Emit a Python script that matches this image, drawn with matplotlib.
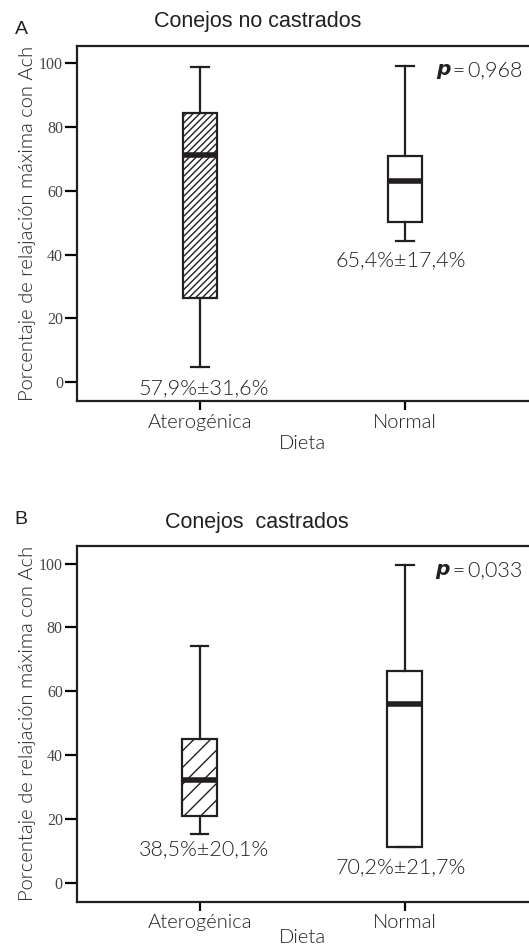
import matplotlib
matplotlib.use("Agg")
import matplotlib.pyplot as plt

# ---- data ----
categories = ["Aterogénica", "Normal"]
titles = ["Conejos no castrados", "Conejos  castrados"]
panel_letters = ["A", "B"]
p_values = ["\u2009=\u20090,968", "\u2009=\u20090,033"]

# panel A (no castrados)
a_whislo = [4.8, 44.1]
a_q1 = [26.3, 50.1]
a_med = [71.4, 63.1]
a_q3 = [84.6, 71.1]
a_whishi = [98.9, 99.2]
a_labels = ["57,9%±31,6%", "65,4%±17,4%"]
a_label_y = [-2.0, 38.2]

# panel B (castrados)
b_whislo = [15.1, 11.3]
b_q1 = [20.8, 11.3]
b_med = [32.0, 56.0]
b_q3 = [45.1, 66.2]
b_whishi = [74.2, 99.6]
b_labels = ["38,5%±20,1%", "70,2%±21,7%"]
b_label_y = [10.4, 4.8]

yticks = [0, 20, 40, 60, 80, 100]
ylabel = "Porcentaje de relajación máxima con Ach"
xlabel = "Dieta"

TXT = "#231f20"
LIGHT = ["Lato", "DejaVu Sans"]
W = 300
plt.rcParams["hatch.linewidth"] = 1.0

fig = plt.figure(figsize=(5.29, 9.5), dpi=100)
axes = [fig.add_axes([0.1456, 0.5779, 0.8524, 0.3737]),
        fig.add_axes([0.1450, 0.0508, 0.8530, 0.3745])]

panels = [
    (a_whislo, a_q1, a_med, a_q3, a_whishi, a_labels, a_label_y, "/////"),
    (b_whislo, b_q1, b_med, b_q3, b_whishi, b_labels, b_label_y, "//"),
]
letter_y = [1 - 30 / 950, 1 - 520 / 950]
title_off = [24, 23]
xtick_pad = [3, 2]
xlabel_pad = [3, -1]

for i, ax in enumerate(axes):
    wl, q1, med, q3, wh, labs, laby, hatch = panels[i]
    stats = []
    for k in range(len(categories)):
        stats.append(dict(whislo=wl[k], q1=q1[k], med=med[k], q3=q3[k],
                          whishi=wh[k], fliers=[], label=categories[k]))
    bp = ax.bxp(stats, positions=[1, 2], widths=0.17, patch_artist=True,
                showfliers=False,
                boxprops=dict(linewidth=1.6, edgecolor=TXT, facecolor="white"),
                medianprops=dict(linewidth=4.0, color=TXT, solid_capstyle="butt"),
                whiskerprops=dict(linewidth=1.6, color=TXT),
                capprops=dict(linewidth=1.6, color=TXT))
    bp["boxes"][0].set_hatch(hatch)

    ax.set_xlim(0.4, 2.6)
    ax.set_ylim(-6, 105.5)
    ax.set_yticks(yticks)
    ax.set_yticklabels([str(t) for t in yticks], family="Liberation Serif",
                       fontsize=11.5, color="#444444")
    ax.set_xticks([1, 2])
    ax.set_xticklabels(categories, family=LIGHT, fontsize=14.5,
                       fontweight=W, color=TXT)
    ax.tick_params(axis="y", direction="out", length=9, width=1.6, pad=1)
    ax.tick_params(axis="x", direction="out", length=6.5, width=1.6,
                   pad=xtick_pad[i])
    for s in ["top", "left", "bottom"]:
        ax.spines[s].set_linewidth(1.6)
        ax.spines[s].set_color(TXT)
    ax.spines["right"].set_visible(False)

    ax.set_ylabel(ylabel, family=LIGHT, fontsize=14.5, fontweight=W,
                  color=TXT, labelpad=2)
    ax.set_xlabel(xlabel, family=LIGHT, fontsize=14.5, fontweight=W,
                  color=TXT, labelpad=xlabel_pad[i])

    for k in range(len(categories)):
        ax.text([1.02, 1.98][k], laby[k], labs[k], ha="center", va="center",
                family=LIGHT, fontsize=15.5, fontweight=W, color=TXT)

    t1 = ax.text(2.15, 98.0, "p", ha="left", va="center", fontsize=14.5,
                 fontweight="bold", fontstyle="italic", family="DejaVu Sans",
                 color=TXT)
    ax.annotate(p_values[i], xy=(1.0, 0.5), xycoords=t1, ha="left",
                va="center", family=LIGHT, fontsize=15.5, fontweight=W,
                color=TXT)

    h_px = ax.get_position().height * 950
    ax.text(0.40, 1 + title_off[i] / h_px, titles[i], transform=ax.transAxes,
            ha="center", va="center", family="Liberation Sans",
            fontsize=15.5, color=TXT)
    fig.text(0.028, letter_y[i], panel_letters[i], family="Liberation Sans",
             fontsize=14, color=TXT, ha="left", va="center")

fig.savefig("out.png", dpi=100)
